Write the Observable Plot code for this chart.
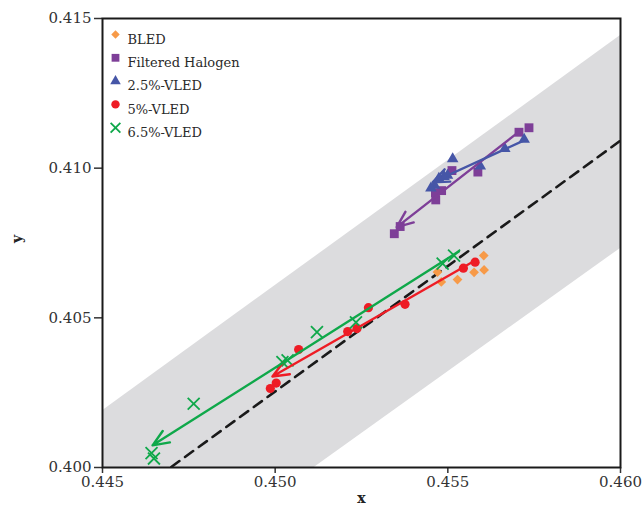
<!DOCTYPE html>
<html>
<head>
<meta charset="utf-8">
<script src="https://cdn.jsdelivr.net/npm/d3@7"></script>
<script src="https://cdn.jsdelivr.net/npm/@observablehq/plot@0.6"></script>
<style>
  html, body { margin: 0; padding: 0; background: #fff; }
</style>
</head>
<body>
<div id="chart"></div>
<script>
// ---- tick labels ----
const xTicks = [0.445, 0.450, 0.455, 0.460];
const yTicks = [0.400, 0.405, 0.410, 0.415];

// ---- series ----
const seriesNames = ["BLED", "Filtered Halogen", "2.5%-VLED", "5%-VLED", "6.5%-VLED"];
const seriesColors = ["#f79a48", "#7e3f98", "#4656a7", "#ee1c25", "#0fa84a"];
const seriesSymbols = ["diamond2", "square", "triangle", "circle", "times"];

const bledX = [0.45604, 0.45470, 0.45481, 0.45528, 0.45576, 0.45605];
const bledY = [0.40708, 0.40653, 0.40620, 0.40628, 0.40652, 0.40660];

const halogenX = [0.45345, 0.45362, 0.45465, 0.45464, 0.45482, 0.45512, 0.45587, 0.45706, 0.45735];
const halogenY = [0.40781, 0.40805, 0.40894, 0.40918, 0.40925, 0.40992, 0.40987, 0.41120, 0.41135];

const vled25X = [0.45721, 0.45665, 0.45594, 0.45514, 0.45499, 0.45489, 0.45474, 0.45462, 0.45451];
const vled25Y = [0.41096, 0.41065, 0.41007, 0.41031, 0.40976, 0.40972, 0.40966, 0.40942, 0.40933];

const vled5X = [0.45579, 0.45545, 0.45376, 0.45270, 0.45237, 0.45210, 0.45068, 0.45003, 0.44986];
const vled5Y = [0.40686, 0.40666, 0.40545, 0.40534, 0.40464, 0.40454, 0.40394, 0.40282, 0.40264];

const vled65X = [0.45518, 0.45485, 0.45234, 0.45121, 0.45036, 0.45021, 0.44764, 0.44642, 0.44649];
const vled65Y = [0.40708, 0.40681, 0.40485, 0.40452, 0.40358, 0.40352, 0.40213, 0.40048, 0.40030];

// ---- trend arrows (start -> end), one per series except BLED ----
const arrowSeries = ["Filtered Halogen", "2.5%-VLED", "5%-VLED", "6.5%-VLED"];
const arrowX1 = [0.45712, 0.45721, 0.45584, 0.45532];
const arrowY1 = [0.41127, 0.41093, 0.40695, 0.40722];
const arrowX2 = [0.45352, 0.45456, 0.44992, 0.44645];
const arrowY2 = [0.40803, 0.40953, 0.40304, 0.40074];

// ---- tolerance band and reference line ----
const bandX = [0.445, 0.460];
const bandLow = [0.39494, 0.40732];
const bandHigh = [0.40190, 0.41443];
const refX = [0.445, 0.460];
const refY = [0.39835, 0.41092];

// ---- build table ----
const seriesX = [bledX, halogenX, vled25X, vled5X, vled65X];
const seriesY = [bledY, halogenY, vled25Y, vled5Y, vled65Y];
const points = [];
seriesNames.forEach((name, s) => {
  seriesX[s].forEach((x, i) => points.push({series: name, x, y: seriesY[s][i]}));
});
const arrows = arrowSeries.map((name, i) => ({
  series: name, x1: arrowX1[i], y1: arrowY1[i], x2: arrowX2[i], y2: arrowY2[i]
}));
const band = bandX.map((x, i) => ({x, lo: bandLow[i], hi: bandHigh[i]}));
const ref = refX.map((x, i) => ({x, y: refY[i]}));
const colorOf = name => seriesColors[seriesNames.indexOf(name)];

const marks = [
  Plot.areaY(band, {x: "x", y1: "lo", y2: "hi", fill: "#dcdcde", clip: true}),
  Plot.line(ref, {x: "x", y: "y", stroke: "#1a1a1a", strokeWidth: 2.6, strokeDasharray: "10,7", clip: true}),
];

const plotR = {circle: 4.6, diamond2: 4.4, square: 5, triangle: 4.3, times: 5.5};
seriesNames.forEach((name, s) => {
  const data = points.filter(d => d.series === name);
  const sym = seriesSymbols[s];
  if (sym === "times") {
    marks.push(Plot.dot(data, {x: "x", y: "y", symbol: sym, r: plotR[sym], stroke: seriesColors[s], strokeWidth: 1.8, fill: "none"}));
  } else {
    marks.push(Plot.dot(data, {x: "x", y: "y", symbol: sym, r: plotR[sym], fill: seriesColors[s], stroke: "none"}));
  }
});

marks.push(Plot.arrow(arrows, {
  x1: "x1", y1: "y1", x2: "x2", y2: "y2",
  stroke: d => colorOf(d.series), strokeWidth: 2.4, headLength: 11, headAngle: 45
}));

// legend (inside plot, top-left)
const legR = {circle: 4.2, diamond2: 3.8, square: 4.4, triangle: 3.9, times: 4.5};
seriesNames.forEach((name, s) => {
  const sym = seriesSymbols[s];
  const dotOpts = {frameAnchor: "top-left", dx: 13, dy: 16 + 23.3 * s, symbol: sym, r: legR[sym]};
  if (sym === "times") {
    Object.assign(dotOpts, {stroke: seriesColors[s], strokeWidth: 1.8, fill: "none"});
  } else {
    Object.assign(dotOpts, {fill: seriesColors[s], stroke: "none"});
  }
  marks.push(Plot.dot([name], dotOpts));
  marks.push(Plot.text([name], {
    frameAnchor: "top-left", dx: 25, dy: 16 + 23.3 * s, text: d => d,
    textAnchor: "start", fontSize: 13, fill: "#2a2a2a"
  }));
});

// axes
marks.push(Plot.axisX({ticks: xTicks, tickFormat: d3.format(".3f"), tickSize: 6, tickPadding: 3, label: null, strokeWidth: 1.5}));
marks.push(Plot.axisY({ticks: yTicks, tickFormat: d3.format(".3f"), tickSize: 8, tickPadding: 3, label: null, strokeWidth: 1.5}));
marks.push(Plot.frame({stroke: "#1a1a1a", strokeWidth: 2}));
marks.push(Plot.text(["x"], {frameAnchor: "bottom", dy: 35, text: d => d, fontWeight: "bold", fontSize: 14, fill: "#222"}));
marks.push(Plot.text(["y"], {frameAnchor: "left", dx: -85, rotate: -90, text: d => d, fontWeight: "bold", fontSize: 14, fill: "#222"}));

const chart = Plot.plot({
  width: 642,
  height: 508,
  marginLeft: 102,
  marginRight: 22,
  marginTop: 18,
  marginBottom: 41,
  x: {domain: [0.445, 0.460]},
  y: {domain: [0.400, 0.415]},
  style: {fontFamily: "'DejaVu Serif', serif", fontSize: "15px", color: "#333", background: "#fff"},
  marks
});
document.getElementById("chart").appendChild(chart);
</script>
</body>
</html>
